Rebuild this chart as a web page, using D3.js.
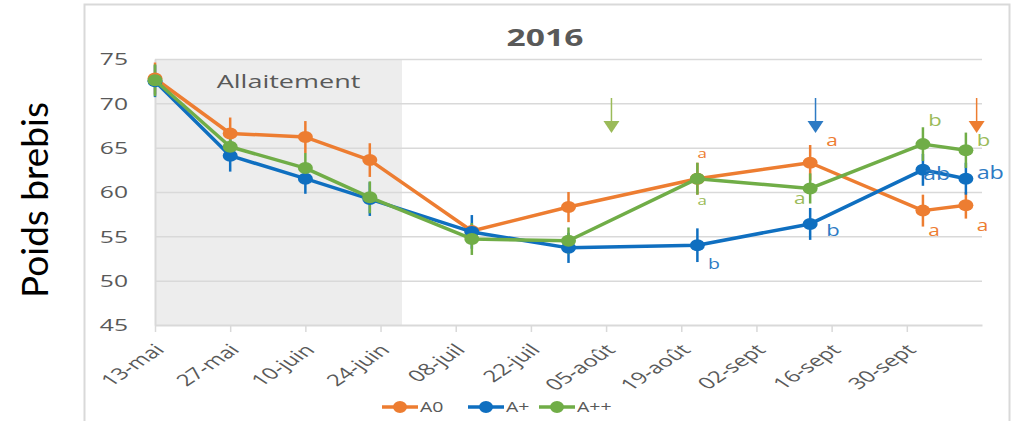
<!DOCTYPE html>
<html>
<head>
<meta charset="utf-8">
<script src="https://cdn.jsdelivr.net/npm/d3@7"></script>
<style>
  body { margin: 0; background: #fff; }
  svg { display: block; font-family: "Open Sans", "Noto Sans", sans-serif; }
</style>
</head>
<body>
<svg id="chart"></svg>
<script>
const parse = d3.utcParse("%Y-%m-%d");

// sampling dates
const dates = ["2016-05-13", "2016-05-27", "2016-06-10", "2016-06-22", "2016-07-11",
               "2016-07-29", "2016-08-22", "2016-09-12", "2016-10-03", "2016-10-11"];

// ewe weight per group (kg) and error bar half widths
const a0    = [72.8, 66.6, 66.2, 63.6, 55.6, 58.3, 61.5, 63.3, 57.9, 58.5];
const aPlus = [72.5, 64.1, 61.5, 59.2, 55.5, 53.7, 54.0, 56.4, 62.5, 61.5];
const aPP   = [72.6, 65.1, 62.7, 59.4, 54.7, 54.5, 61.5, 60.4, 65.4, 64.7];
const a0Err    = [1.8, 1.8, 1.8, 1.9, 0.8, 1.7, 1.8, 2.0, 1.8, 1.5];
const aPlusErr = [1.8, 1.8, 1.7, 1.9, 1.9, 1.7, 1.9, 1.8, 1.8, 1.8];
const aPPErr   = [1.8, 1.5, 1.7, 1.8, 1.8, 1.5, 1.8, 1.7, 1.9, 2.0];

const seriesNames = ["A0", "A+", "A++"];

// x axis tick dates and labels
const tickDates  = ["2016-05-13", "2016-05-27", "2016-06-10", "2016-06-24", "2016-07-08", "2016-07-22",
                    "2016-08-05", "2016-08-19", "2016-09-02", "2016-09-16", "2016-09-30"];
const tickLabels = ["13-mai", "27-mai", "10-juin", "24-juin", "08-juil", "22-juil",
                    "05-août", "19-août", "02-sept", "16-sept", "30-sept"];
const yTicks = [45, 50, 55, 60, 65, 70, 75];

// suckling period
const allaitement = ["2016-05-13", "2016-06-28"];

// arrows (date, series index)
const arrowDates  = ["2016-08-06", "2016-09-13", "2016-10-13"];
const arrowSeries = [2, 1, 0];

// significance letters: date, value (baseline), text, series index, size
const letterDates  = ["2016-08-22", "2016-08-22", "2016-08-24", "2016-09-15", "2016-09-09", "2016-09-15",
                      "2016-10-04", "2016-10-13", "2016-10-03", "2016-10-13", "2016-10-04", "2016-10-13"];
const letterValues = [63.8, 58.5, 51.3, 65.2, 58.7, 55.0, 67.5, 65.2, 61.3, 61.5, 55.0, 55.6];
const letterTexts  = ["a", "a", "b", "a", "a", "b", "b", "b", "ab", "ab", "a", "a"];
const letterSeries = [0, 2, 1, 0, 2, 1, 2, 2, 1, 1, 0, 0];
const letterSizes  = [13, 13, 15, 16, 16, 17, 17, 17, 18, 18, 16, 16];

const colors = ["#ED7D31", "#0F6FC0", "#70AD47"];
const labelColors = ["#ED7D31", "#2E7BC4", "#9BBB59"];

const width = 1027, height = 421;
const margin = {top: 59, right: 45, bottom: 96, left: 155};
const stretch = 1.5; // the reference is drawn wide

const svg = d3.select("#chart").attr("width", width).attr("height", height);

const x = d3.scaleUtc()
  .domain([parse("2016-05-13"), parse("2016-10-14")])
  .range([margin.left, width - margin.right]);

const y = d3.scaleLinear()
  .domain([45, 75])
  .range([height - margin.bottom, margin.top]);

function wideText(g, tx, ty, txt, sx = stretch) {
  return g.append("text")
    .attr("transform", `translate(${tx},${ty}) scale(${sx},1)`)
    .text(txt);
}

// outer chart frame
svg.append("rect")
  .attr("x", 84.5).attr("y", 4.5)
  .attr("width", 925).attr("height", 430)
  .attr("fill", "none").attr("stroke", "#d9d9d9").attr("stroke-width", 2);

// suckling shading
svg.append("rect")
  .attr("x", x(parse(allaitement[0])))
  .attr("y", y(75))
  .attr("width", x(parse(allaitement[1])) - x(parse(allaitement[0])))
  .attr("height", y(45) - y(75))
  .attr("fill", "#ededed");

wideText(svg, (x(parse(allaitement[0])) + x(parse(allaitement[1]))) / 2 + 10, 88, "Allaitement")
  .attr("text-anchor", "middle")
  .attr("font-size", 18)
  .attr("fill", "#595959");

// horizontal grid
const grid = svg.append("g")
  .attr("transform", `translate(${margin.left},0)`)
  .call(d3.axisLeft(y).tickValues(yTicks.slice(1))
    .tickSize(-(width - margin.left - margin.right)).tickFormat(""));
grid.select(".domain").remove();
grid.selectAll("line").attr("stroke", "#d9d9d9").attr("stroke-width", 1.5);

// y axis labels
const yaxis = svg.append("g")
  .attr("transform", `translate(${margin.left},0)`)
  .call(d3.axisLeft(y).tickValues(yTicks).tickSize(0));
yaxis.select(".domain").attr("stroke", "#d9d9d9").attr("stroke-width", 2);
yaxis.selectAll("text")
  .attr("x", null).attr("dy", "0.35em")
  .attr("transform", `translate(-27,0) scale(1.45,1)`)
  .attr("font-family", "Open Sans, sans-serif")
  .attr("font-size", 17).attr("fill", "#595959");

// x axis
const xaxis = svg.append("g")
  .attr("transform", `translate(0,${y(45)})`)
  .call(d3.axisBottom(x)
    .tickValues(tickDates.map(parse))
    .tickSize(7).tickSizeOuter(0)
    .tickFormat((d, i) => tickLabels[i]));
xaxis.select(".domain").attr("stroke", "#d9d9d9").attr("stroke-width", 2);
xaxis.selectAll("line").attr("stroke", "#d9d9d9").attr("stroke-width", 1.5);
xaxis.selectAll("text")
  .attr("y", null).attr("dy", "0.35em")
  .attr("font-family", "Open Sans, sans-serif")
  .attr("font-size", 16).attr("fill", "#595959")
  .attr("text-anchor", "end")
  .attr("transform", `translate(4,22) scale(${stretch},1) rotate(-45)`);

// title
wideText(svg, 545, 46, "2016", 1.4)
  .attr("text-anchor", "middle")
  .attr("font-size", 24).attr("font-weight", "bold")
  .attr("fill", "#595959");

// y label
svg.append("text")
  .attr("transform", `translate(48,200) rotate(-90)`)
  .attr("text-anchor", "middle")
  .attr("font-family", "Lato, sans-serif")
  .attr("font-size", 37)
  .attr("fill", "#000")
  .text("Poids brebis");

// series
const allValues = [a0, aPlus, aPP];
const allErrs = [a0Err, aPlusErr, aPPErr];
const series = seriesNames.map((name, k) => ({
  name,
  color: colors[k],
  points: dates.map((d, i) => ({date: parse(d), v: allValues[k][i], e: allErrs[k][i]}))
}));

const line = d3.line().x(p => x(p.date)).y(p => y(p.v));

// error bars first, then lines and markers (A0 below, A++ on top)
series.forEach(s => {
  svg.append("g").selectAll("line")
    .data(s.points).join("line")
    .attr("x1", p => x(p.date)).attr("x2", p => x(p.date))
    .attr("y1", p => y(p.v - p.e)).attr("y2", p => y(p.v + p.e))
    .attr("stroke", s.color).attr("stroke-width", 2.5);
});
series.forEach(s => {
  svg.append("path")
    .datum(s.points)
    .attr("d", line)
    .attr("fill", "none")
    .attr("stroke", s.color)
    .attr("stroke-width", 3.5)
    .attr("stroke-linejoin", "round");
  svg.append("g").selectAll("ellipse")
    .data(s.points).join("ellipse")
    .attr("cx", p => x(p.date)).attr("cy", p => y(p.v))
    .attr("rx", 7.5).attr("ry", 6)
    .attr("fill", s.color);
});

// arrows
arrowDates.forEach((d, i) => {
  const ax = x(parse(d));
  const c = labelColors[arrowSeries[i]];
  svg.append("line")
    .attr("x1", ax).attr("x2", ax)
    .attr("y1", 98).attr("y2", 124)
    .attr("stroke", c).attr("stroke-width", 1.5);
  svg.append("path")
    .attr("d", `M${ax - 8},${121} L${ax + 8},${121} L${ax},${133} Z`)
    .attr("fill", c);
});

// significance letters
letterTexts.forEach((t, i) => {
  wideText(svg, x(parse(letterDates[i])), y(letterValues[i]), t, 1.3)
    .attr("font-size", letterSizes[i])
    .attr("fill", labelColors[letterSeries[i]]);
});

// legend
const legendX = [382, 468, 539];
const legend = svg.append("g");
seriesNames.forEach((name, k) => {
  const g = legend.append("g").attr("transform", `translate(${legendX[k]},407)`);
  g.append("line").attr("x1", 0).attr("x2", 36).attr("stroke", colors[k]).attr("stroke-width", 3.5);
  g.append("ellipse").attr("cx", 18).attr("rx", 7).attr("ry", 6).attr("fill", colors[k]);
  wideText(g, 38, 0, name, 1.3)
    .attr("dy", "0.35em")
    .attr("font-size", 15).attr("fill", "#595959");
});
</script>
</body>
</html>
